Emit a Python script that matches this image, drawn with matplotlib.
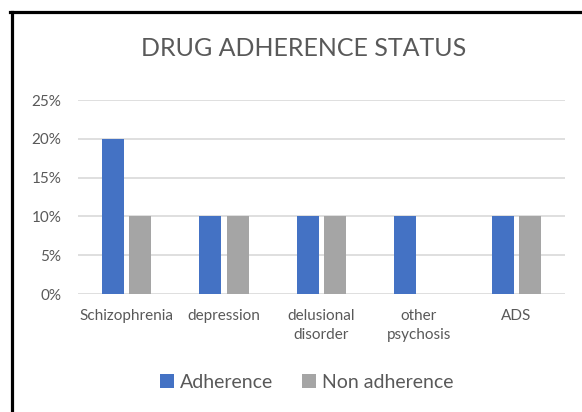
import matplotlib
matplotlib.use("Agg")
import matplotlib.pyplot as plt
from matplotlib.lines import Line2D
import numpy as np

categories = ["Schizophrenia", "depression", "delusional\ndisorder", "other\npsychosis", "ADS"]
adherence = [20, 10, 10, 10, 10]
non_adherence = [10, 10, 10, 0, 10]
y_ticks = [0, 5, 10, 15, 20, 25]

plt.rcParams['font.family'] = ['Lato', 'DejaVu Sans']
text_col = "#595959"

fig = plt.figure(figsize=(5.82, 4.12), dpi=100)
ax = fig.add_axes([78/582, 1-294/412, (565-78)/582, (294-100)/412])

x = np.arange(len(categories))
w = 0.226
ax.bar(x - 0.141, adherence, w, color="#4472C4", label="Adherence", zorder=3)
ax.bar(x + 0.141, non_adherence, w, color="#A5A5A5", label="Non adherence", zorder=3)

ax.set_xlim(-0.5, len(categories) - 0.5)
ax.set_ylim(0, 25)
ax.set_yticks(y_ticks)
ax.set_yticklabels([f"{t}%" for t in y_ticks])
ax.set_xticks(x)
ax.set_xticklabels(categories)
for lbl in ax.get_xticklabels():
    lbl.set_linespacing(1.45)
ax.yaxis.grid(True, color="#d9d9d9", linewidth=1.2, zorder=0)
ax.tick_params(axis="both", length=0, colors=text_col, labelsize=11)
ax.tick_params(axis="x", pad=11)
ax.tick_params(axis="y", pad=12)
for s in ax.spines.values():
    s.set_visible(False)

fig.text(0.5215, 1-49/412, "DRUG ADHERENCE STATUS", ha="center", va="center",
         fontsize=18, color=text_col)

fig.legend(loc="center", bbox_to_anchor=(0.527, 1-382/412), ncol=2, frameon=False,
           fontsize=14, labelcolor=text_col, handlelength=0.7, handleheight=0.7,
           handletextpad=0.3, columnspacing=1.5)

# partial frame: left and top edges
fig.add_artist(Line2D([11.5/582, 11.5/582], [0, 1-11.5/412], color="black", linewidth=2.3,
                      transform=fig.transFigure))
fig.add_artist(Line2D([10/582, 1], [1-11.5/412, 1-11.5/412], color="black", linewidth=2.3,
                      transform=fig.transFigure))

fig.savefig("out.png", dpi=100)
